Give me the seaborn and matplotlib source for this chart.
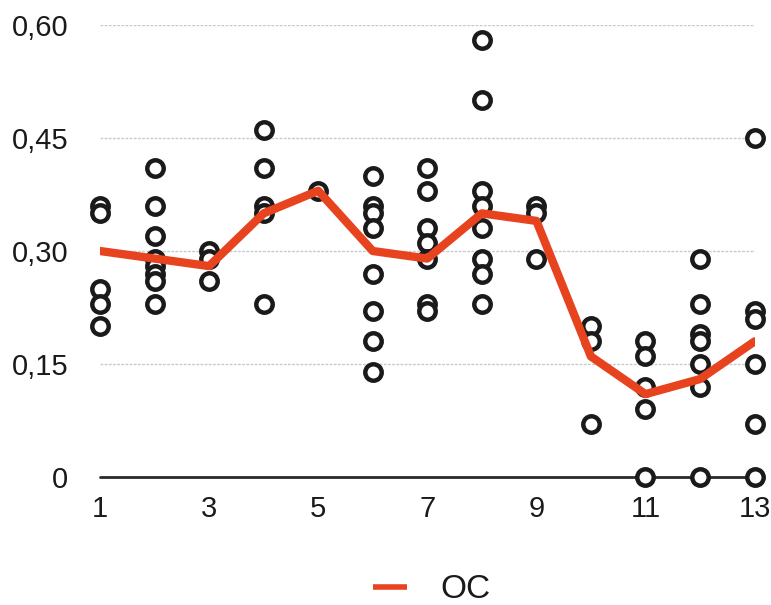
import pandas as pd
import matplotlib.pyplot as plt
import seaborn as sns
from matplotlib.lines import Line2D

# time points and the OC (mean) line
tempo = [1, 2, 3, 4, 5, 6, 7, 8, 9, 10, 11, 12, 13]
oc = [0.30, 0.29, 0.28, 0.35, 0.38, 0.30, 0.29, 0.35, 0.34, 0.16, 0.11, 0.13, 0.18]

# individual observations per time point
obs = [
    [0.36, 0.35, 0.25, 0.23, 0.20],
    [0.41, 0.36, 0.32, 0.29, 0.28, 0.27, 0.26, 0.23],
    [0.30, 0.29, 0.26],
    [0.46, 0.41, 0.36, 0.35, 0.23],
    [0.38],
    [0.40, 0.36, 0.35, 0.33, 0.27, 0.22, 0.18, 0.14],
    [0.41, 0.38, 0.33, 0.31, 0.29, 0.23, 0.22],
    [0.58, 0.50, 0.38, 0.36, 0.33, 0.29, 0.27, 0.23],
    [0.36, 0.35, 0.29],
    [0.20, 0.18, 0.07],
    [0.18, 0.16, 0.12, 0.09, 0.0],
    [0.29, 0.23, 0.19, 0.18, 0.15, 0.12, 0.0],
    [0.45, 0.22, 0.21, 0.15, 0.07, 0.0],
]

y_ticks = [0, 0.15, 0.30, 0.45, 0.60]
y_labels = ['0', '0,15', '0,30', '0,45', '0,60']
x_ticks = [1, 3, 5, 7, 9, 11, 13]

pontos = pd.DataFrame(
    [(t, v) for t, vals in zip(tempo, obs) for v in vals], columns=['tempo', 'valor']
)
linha = pd.DataFrame({'tempo': tempo, 'OC': oc})

sns.set_style('white')
plt.rcParams['font.family'] = ['Liberation Sans', 'DejaVu Sans']

fig = plt.figure(figsize=(7.71, 6.05), dpi=100)
ax = fig.add_axes([0.1297, 0.2116, 0.849, 0.747])

for y in y_ticks[1:]:
    ax.axhline(y, color='#c5cbd2', lw=1.0, ls=(0, (2, 1)), zorder=0)
ax.axhline(0, color='#2a2a2a', lw=2.0, zorder=1, clip_on=False)

sns.lineplot(data=linha, x='tempo', y='OC', color='#e8431f', lw=6, ax=ax,
             zorder=3, legend=False)
sns.scatterplot(data=pontos, x='tempo', y='valor', ax=ax, s=140, marker='o',
                facecolor='white', edgecolor='#1a1a1a', linewidth=3.2,
                zorder=2, clip_on=False, legend=False)

ax.set_xlim(1, 13)
ax.set_ylim(0, 0.6)
ax.set_xticks(x_ticks)
ax.set_xticklabels([str(x) for x in x_ticks])
ax.set_yticks(y_ticks)
ax.set_yticklabels(y_labels)
ax.tick_params(axis='both', length=0, labelsize=21, colors='#1a1a1a')
ax.tick_params(axis='y', pad=23)
ax.tick_params(axis='x', pad=13)
ax.set_xlabel('')
ax.set_ylabel('')
for s in ax.spines.values():
    s.set_visible(False)

handle = Line2D([], [], color='#e8431f', lw=4, solid_capstyle='butt')
fig.legend([handle], ['OC'], loc='lower center', bbox_to_anchor=(0.56, -0.05),
           frameon=False, fontsize=24, handlelength=1.0, handletextpad=1.0,
           labelcolor='#1a1a1a')

fig.savefig('out.png', dpi=100)
